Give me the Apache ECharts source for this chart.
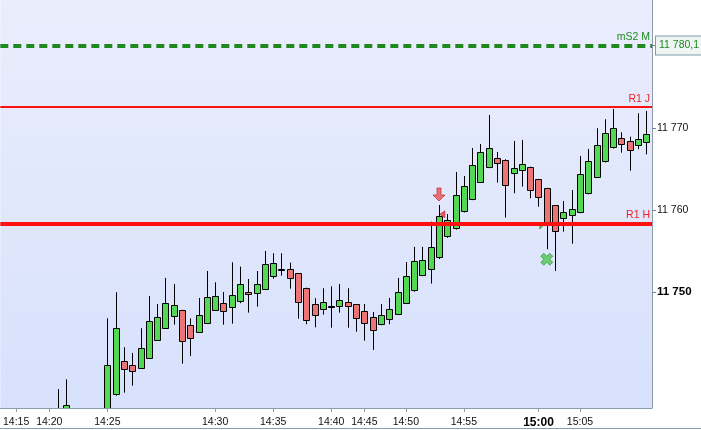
<!DOCTYPE html>
<html>
<head>
<meta charset="utf-8">
<script src="https://cdn.jsdelivr.net/npm/echarts@6/dist/echarts.min.js"></script>
<style>html,body{margin:0;padding:0;background:#fff;}#c{width:701px;height:430px;}</style>
</head>
<body>
<div id="c"></div>
<script>
// candle index (one bar per slot)
const candleIndex = [0,1,2,3,4,5,6,7,8,9,10,11,12,13,14,15,16,17,18,19,20,21,22,23,24,25,26,27,28,29,30,31,32,33,34,35,36,37,38,39,40,41,42,43,44,45,46,47,48,49,50,51,52,53,54,55,56,57,58,59,60,61,62,63,64,65,66,67,68,69,70,71];
const opens  = [11735.0,11733.8,11735.2,11734.0,11733.2,11734.0,11734.8,11737.47,11741.50,11741.01,11740.65,11741.87,11744.07,11745.54,11747.00,11747.74,11745.90,11745.05,11746.15,11747.74,11748.59,11748.11,11748.84,11749.98,11749.82,11750.38,11751.85,11752.82,11752.75,11752.26,11750.43,11748.47,11747.86,11748.26,11748.35,11748.72,11748.47,11747.62,11746.88,11746.03,11746.64,11747.25,11748.59,11750.13,11752.02,11752.82,11754.17,11756.74,11757.76,11759.79,11761.26,11763.34,11765.22,11766.32,11766.08,11764.49,11764.85,11765.22,11763.75,11762.65,11760.57,11758.99,11759.35,11759.72,11762.04,11764.00,11765.90,11767.62,11768.77,11768.40,11767.91,11768.28];
const closes = [11734.2,11736.1,11734.0,11733.2,11734.0,11734.8,11741.00,11745.54,11740.53,11740.28,11743.09,11746.43,11746.92,11748.63,11748.35,11743.95,11744.32,11747.13,11749.33,11749.45,11747.62,11749.57,11750.95,11749.69,11750.95,11753.40,11753.48,11752.82,11751.65,11748.72,11746.52,11747.08,11748.72,11748.26,11749.03,11748.23,11746.76,11746.15,11745.29,11747.13,11747.86,11749.94,11751.89,11753.73,11753.85,11755.48,11759.23,11758.74,11761.80,11762.90,11765.46,11767.05,11767.54,11765.71,11763.02,11765.10,11765.59,11762.41,11761.55,11758.37,11757.40,11759.72,11760.09,11764.36,11765.95,11767.91,11769.38,11769.99,11768.03,11767.30,11768.64,11769.29];
const lows   = [11733.0,11733.0,11733.0,11732.5,11732.6,11733.5,11734.5,11737.30,11737.67,11738.52,11740.60,11741.80,11744.00,11745.50,11745.98,11741.21,11742.15,11745.00,11746.10,11747.70,11745.98,11746.10,11748.60,11747.45,11748.18,11750.30,11751.60,11751.97,11750.38,11746.71,11746.03,11745.66,11747.20,11745.61,11747.45,11745.61,11745.12,11744.02,11742.89,11745.90,11746.03,11747.20,11748.50,11750.00,11751.90,11751.00,11754.00,11756.60,11757.60,11759.70,11761.20,11763.30,11765.10,11763.34,11759.06,11762.04,11762.85,11761.43,11760.40,11755.20,11752.54,11757.35,11755.88,11759.60,11761.90,11763.90,11765.80,11767.50,11767.00,11764.80,11767.42,11766.81];
const highs  = [11738.1,11739.3,11735.5,11735.0,11735.2,11735.4,11746.76,11749.94,11743.22,11742.52,11745.54,11749.49,11748.51,11751.69,11750.95,11747.80,11746.76,11749.24,11752.54,11751.16,11749.98,11753.61,11753.07,11751.56,11752.54,11754.99,11754.71,11754.71,11753.56,11752.30,11750.50,11749.21,11750.43,11750.67,11750.95,11750.43,11748.50,11748.51,11747.53,11748.51,11749.24,11751.69,11753.64,11755.48,11755.48,11758.57,11760.61,11759.50,11764.65,11764.16,11767.58,11768.07,11771.61,11767.09,11766.20,11768.44,11768.56,11765.30,11763.80,11762.70,11760.60,11761.10,11762.44,11766.60,11767.46,11770.00,11771.09,11772.35,11769.50,11768.96,11771.82,11772.10];

// time labels, placed at candle slots
const timeTickIndex = [-5,-1,6,19,26,33,37,42,49,58,63];
const timeTickLabels = ['14:15','14:20','14:25','14:30','14:35','14:40','14:45','14:50','14:55','15:00','15:05'];
const boldTimeLabel = '15:00';

// price axis
const priceTicks = [11750,11760,11770];
const boldPrice = 11750;

// levels
const levelNames = ['mS2 M','R1 J','R1 H'];
const levelValues = [11780.1, 11772.59, 11758.37];
const levelBoxText = '11 780,1';

// signals
const signalIndex = [46, 46.41, 58.51, 59];
const signalValue = [11761.89, 11759.47, 11758.04, 11753.97];
const signalKind  = ['sellArrow','sellTick','buyTick','buyCross'];

const fmtPrice = v => String(v).replace(/\B(?=(\d{3})+(?!\d))/g, ' ');

const candleData = candleIndex.map((x, i) => [x, opens[i], closes[i], lows[i], highs[i]]);

const UP = '#52d852', DOWN = '#ec7474';

function renderCandle(params, api) {
  const x = api.value(0), o = api.value(1), c = api.value(2), l = api.value(3), h = api.value(4);
  const pO = api.coord([x, o]), pC = api.coord([x, c]), pL = api.coord([x, l]), pH = api.coord([x, h]);
  const cx = Math.round(pO[0]) + 0.5;
  const top = Math.round(Math.min(pO[1], pC[1])) + 0.5;
  let hgt = Math.round(Math.abs(pO[1] - pC[1]));
  if (hgt < 1) hgt = 1;
  const fill = c > o ? UP : (c < o ? DOWN : '#000');
  return {
    type:'group',
    children:[
      {type:'line', shape:{x1:cx, y1:pH[1], x2:cx, y2:pL[1]}, style:{stroke:'#000', lineWidth:1}},
      {type:'rect', shape:{x:cx - 3, y:top, width:6, height:hgt}, style:{fill:fill, stroke:'#000', lineWidth:1}}
    ]
  };
}

const symbolFor = {
  sellArrow: {symbol:'path://M4,0 L8,0 L8,7 L12,7 L6,13 L0,7 L4,7 Z', size:[12,13], color:'#ee5454', border:'#b52020'},
  sellTick:  {symbol:'path://M5,0 L5,8 L0,4 Z', size:[5,7], color:'#e33a3a', border:'#c02020'},
  buyTick:   {symbol:'path://M0,0 L6,0 L0,6 Z', size:[6,6], color:'#3fbf3f', border:'#228822'},
  buyCross:  {symbol:'path://M3,0 L6,3 L9,0 L12,3 L9,6 L12,9 L9,12 L6,9 L3,12 L0,9 L3,6 L0,3 Z', size:[12,12], color:'#4cc84c', border:'#2a8a2a'}
};
const signalData = signalIndex.map((x, i) => {
  const s = symbolFor[signalKind[i]];
  return {value:[x, signalValue[i]], symbol:s.symbol, symbolSize:s.size,
    itemStyle:{color:s.color, borderColor:s.border, borderWidth:0.8}};
});

const FONT = 'Liberation Sans, Arial, sans-serif';
const chart = echarts.init(document.getElementById('c'), null, {renderer:'canvas'});
chart.setOption({
  animation:false,
  backgroundColor:'#ffffff',
  grid:{left:0, top:0, right:49, bottom:22, show:true, borderWidth:0,
    backgroundColor:new echarts.graphic.LinearGradient(0,0,0,1,[{offset:0,color:'#eaedfc'},{offset:1,color:'#d7e1fc'}])},
  xAxis:{type:'value', min:-6.91, max:71.69, position:'bottom',
    axisLine:{show:true, onZero:false, lineStyle:{color:'#8c9cab', width:1}},
    axisTick:{show:true, length:4, customValues:timeTickIndex, lineStyle:{color:'#8c9cab'}},
    splitLine:{show:false},
    axisLabel:{customValues:timeTickIndex, margin:9, color:'#111', fontSize:10.5, fontFamily:FONT,
      formatter:v => {
        const k = timeTickIndex.indexOf(v);
        const t = k >= 0 ? timeTickLabels[k] : '';
        return t === boldTimeLabel ? '{b|' + t + '}' : t;
      },
      rich:{b:{fontWeight:'bold', fontSize:12, color:'#000', fontFamily:FONT}}}
  },
  yAxis:{type:'value', position:'right', min:11735.79, max:11785.67, scale:true,
    axisLine:{show:true, onZero:false, lineStyle:{color:'#8c9cab', width:1}},
    axisTick:{show:true, length:4, customValues:priceTicks.concat([levelValues[0]]), lineStyle:{color:'#6f8494'}},
    splitLine:{show:false},
    axisLabel:{customValues:priceTicks, margin:5, color:'#111', fontSize:10.5, fontFamily:FONT,
      formatter:v => v === boldPrice ? '{b|' + fmtPrice(v) + '}' : fmtPrice(v),
      rich:{b:{fontWeight:'bold', fontSize:11.5, color:'#000', fontFamily:FONT}}}
  },
  series:[
    {type:'custom', data:candleData, encode:{x:0, y:[1,2,3,4]}, renderItem:renderCandle, clip:true, z:2, silent:true,
      markLine:{silent:true, symbol:['none','none'], animation:false, z:5,
        data:[
          {yAxis:levelValues[0], lineStyle:{color:'#1e8a1e', width:4, type:[8,5]},
            label:{show:true, position:'insideEndTop', formatter:levelNames[0], color:'#1e8a1e', fontSize:10.5, fontFamily:FONT, distance:[2,3]}},
          {yAxis:levelValues[0], lineStyle:{color:'rgba(0,0,0,0)', width:0},
            label:{show:true, position:'end', formatter:levelBoxText, color:'#1e8a1e', fontSize:10.5, fontFamily:FONT,
              backgroundColor:'#eef5f3', borderColor:'#7f9aa8', borderWidth:1, padding:[4,8,3,3], distance:4}},
          {yAxis:levelValues[1], lineStyle:{color:'#ff1010', width:2, type:'solid'},
            label:{show:true, position:'insideEndTop', formatter:levelNames[1], color:'#f02020', fontSize:10.5, fontFamily:FONT, distance:[2,2]}},
          {yAxis:levelValues[2], lineStyle:{color:'#ff1010', width:4, type:'solid'},
            label:{show:true, position:'insideEndTop', formatter:levelNames[2], color:'#f02020', fontSize:10.5, fontFamily:FONT, distance:[2,3]}}
        ]}
    },
    {type:'scatter', data:signalData, z:3, silent:true}
  ],
  graphic:[{type:'line', shape:{x1:0, y1:428.5, x2:701, y2:428.5}, style:{stroke:'#8c9cab', lineWidth:1}, silent:true}]
});
</script>
</body>
</html>
